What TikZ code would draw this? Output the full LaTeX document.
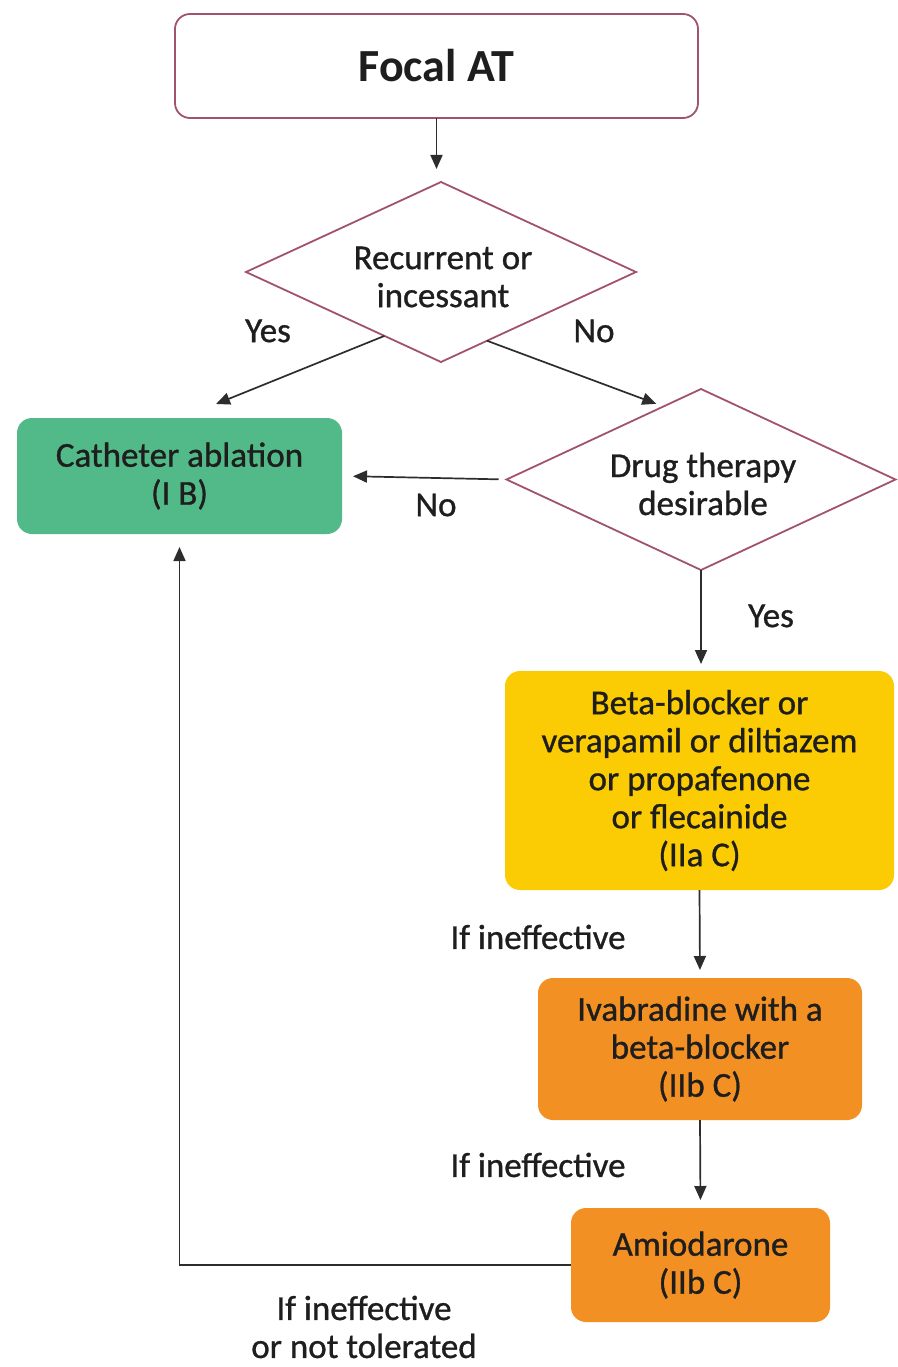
\documentclass[tikz,border=0pt]{standalone}
\usepackage{fontspec}
\setmainfont{Carlito}
\newfontfamily\medfont{Carlito}[FakeBold=0.9]
\usetikzlibrary{arrows.meta,calc}
\definecolor{frame}{RGB}{160,82,112}
\definecolor{green1}{RGB}{82,186,136}
\definecolor{yellow1}{RGB}{251,203,4}
\definecolor{orange1}{RGB}{243,144,35}
\definecolor{line1}{RGB}{45,45,45}
\definecolor{txt}{RGB}{30,30,30}
\begin{document}
\begin{tikzpicture}[x=1pt,y=-1pt,
  every node/.style={text=txt,font=\medfont\fontsize{35}{38}\selectfont,align=center,inner sep=0pt,outer sep=0pt},
  box/.style={rounded corners=15pt,minimum width=#1},
  decision/.style={rectangle},
  dpath/.style={draw=frame,line width=1.8pt,line join=miter},
  arr/.style={draw=line1,line width=1.7pt,-{Triangle[length=14pt,width=12pt]}},
  lab/.style={}]
\useasboundingbox (0,0) rectangle (897,1367);
% nodes
\node[box=523pt,draw=frame,line width=1.8pt,minimum height=104pt,font=\fontsize{46}{50}\selectfont\bfseries] (focal) at (436.5,66) {Focal AT};
\node[decision,minimum width=390pt,minimum height=180pt] (d1) at (441,272) {};
\node (d1t) at (443,277) {Recurrent or\\incessant};
\node[box=325pt,fill=green1,minimum height=116pt] (cath) at (179.5,476) {Catheter ablation\\(I B)};
\node[decision,minimum width=389pt,minimum height=181pt] (d2) at (701,479.5) {};
\node (d2t) at (703,484) {Drug therapy\\desirable};
\node[box=389pt,fill=yellow1,minimum height=219pt] (drug) at (699.5,780.5) {Beta-blocker or\\verapamil or diltiazem\\or propafenone\\or flecainide\\(IIa C)};
\node[box=324pt,fill=orange1,minimum height=142pt] (ivab) at (700,1049) {Ivabradine with a\\beta-blocker\\(IIb C)};
\node[box=259pt,fill=orange1,minimum height=114pt] (amio) at (700.5,1265) {Amiodarone\\(IIb C)};
\draw[dpath] (d1.north) -- (d1.east) -- (d1.south) -- (d1.west) -- cycle;
\draw[dpath] (d2.north) -- (d2.east) -- (d2.south) -- (d2.west) -- cycle;
% labels
\node[lab] (lyes1) at (268,331) {Yes};
\node[lab] (lno1) at (594,331) {No};
\node[lab] (lno2) at (436,505) {No};
\node[lab] (lyes2) at (771,616) {Yes};
\node[lab] (lif1) at (538,937) {If ineffective};
\node[lab] (lif2) at (538,1165) {If ineffective};
\node[lab] (lif3) at (364,1327) {If ineffective\\or not tolerated};
% connectors
\draw[arr,shorten >=13pt] (focal.south) -- (focal.south |- d1.north);
\draw[arr] ($(d1.west)!0.71!(d1.south)$) -- ([xshift=36.5pt,yshift=14pt]cath.north);
\draw[arr] ($(d1.south)!0.236!(d1.east)$) -- ($(d2.north)!0.23!(d2.west)+(0,-6)$);
\draw[arr,shorten <=8pt,shorten >=11pt] (d2.west) -- (cath.east);
\draw[arr,shorten >=7pt] (d2.south) -- (d2.south |- drug.north);
\draw[arr,shorten >=8pt] (drug.south) -- (ivab.north);
\draw[arr,shorten >=8pt] (ivab.south) -- (amio.north);
\draw[arr,shorten >=13pt] (amio.west) -| (cath.south);
\end{tikzpicture}
\end{document}
